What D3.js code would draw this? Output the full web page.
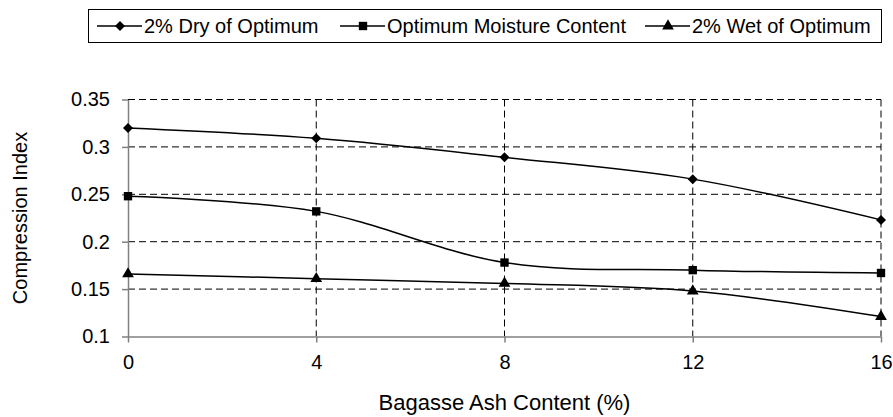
<!DOCTYPE html>
<html lang="en">
<head>
<meta charset="utf-8">
<title>Compression Index vs Bagasse Ash Content</title>
<script src="https://d3js.org/d3.v7.min.js"></script>
<style>
  body { margin: 0; background: #fff; }
  text { font-family: "Liberation Sans", Arial, sans-serif; fill: #000; }
</style>
</head>
<body>
<script>
// data
const ashContent = [0, 4, 8, 12, 16];
const dryOfOptimum = [0.320, 0.309, 0.289, 0.266, 0.223];
const optimumMoisture = [0.248, 0.232, 0.178, 0.170, 0.167];
const wetOfOptimum = [0.166, 0.161, 0.156, 0.148, 0.121];
const seriesNames = ["2% Dry of Optimum", "Optimum Moisture Content", "2% Wet of Optimum"];
const yTicks = [0.1, 0.15, 0.2, 0.25, 0.3, 0.35];

const w = 893, h = 417;
const margin = {top: 99.5, right: 12, bottom: 80.5, left: 128};

// diamond = square turned 45 degrees, like the Excel marker
const diamond = {
  draw(ctx, size) {
    const r = Math.sqrt(size) / Math.SQRT2 * 1.0;
    ctx.moveTo(0, -r); ctx.lineTo(r, 0); ctx.lineTo(0, r); ctx.lineTo(-r, 0); ctx.closePath();
  }
};

const series = [
  {name: seriesNames[0], values: dryOfOptimum, symbol: diamond, size: 50, rot: 0},
  {name: seriesNames[1], values: optimumMoisture, symbol: d3.symbolSquare, size: 70},
  {name: seriesNames[2], values: wetOfOptimum, symbol: d3.symbolTriangle, size: 60}
];

const svg = d3.select("body").append("svg")
  .attr("width", w)
  .attr("height", h);

const x = d3.scaleLinear().domain([0, 16]).range([margin.left, w - margin.right]);
const y = d3.scaleLinear().domain([0.1, 0.35]).range([h - margin.bottom, margin.top]);

// dashed grid
svg.append("g").selectAll("line")
  .data(yTicks.slice(1))
  .join("line")
  .attr("x1", x(0)).attr("x2", x(16))
  .attr("y1", d => y(d)).attr("y2", d => y(d))
  .attr("stroke", "#000").attr("stroke-width", 1)
  .attr("stroke-dasharray", "7,4");

svg.append("g").selectAll("line")
  .data(ashContent.slice(1))
  .join("line")
  .attr("x1", d => x(d)).attr("x2", d => x(d))
  .attr("y1", y(0.35)).attr("y2", y(0.1))
  .attr("stroke", "#000").attr("stroke-width", 1)
  .attr("stroke-dasharray", "7,4");

// axes
const xAxis = d3.axisBottom(x).tickValues(ashContent).tickSize(6).tickSizeOuter(0).tickPadding(12)
  .tickFormat(d3.format("d"));
const yAxis = d3.axisLeft(y).tickValues(yTicks).tickSize(6).tickSizeOuter(0).tickPadding(12)
  .tickFormat(d => String(+d.toFixed(2)));

const gx = svg.append("g")
  .attr("transform", `translate(0,${y(0.1)})`)
  .call(xAxis);
const gy = svg.append("g")
  .attr("transform", `translate(${x(0)},0)`)
  .call(yAxis);

[gx, gy].forEach(g => {
  g.select(".domain").attr("stroke", "#808080").attr("stroke-width", 1.5);
  g.selectAll(".tick line").attr("stroke", "#808080").attr("stroke-width", 1.5);
  g.selectAll(".tick text")
    .attr("font-family", "Liberation Sans, Arial, sans-serif")
    .attr("font-size", 20)
    .attr("fill", "#000");
});

// lines + markers
const line = d3.line()
  .x((d, i) => x(ashContent[i]))
  .y(d => y(d))
  .curve(d3.curveCatmullRom.alpha(0));

series.forEach(s => {
  svg.append("path")
    .attr("d", line(s.values))
    .attr("fill", "none")
    .attr("stroke", "#000")
    .attr("stroke-width", 1.5);

  svg.append("g").selectAll("path")
    .data(s.values)
    .join("path")
    .attr("transform", (d, i) => `translate(${x(ashContent[i])},${y(d)})`)
    .attr("d", d3.symbol(s.symbol, s.size))
    .attr("fill", "#000");
});

// axis titles
svg.append("text")
  .attr("x", (x(0) + x(16)) / 2)
  .attr("y", 410)
  .attr("text-anchor", "middle")
  .attr("font-size", 22)
  .text("Bagasse Ash Content (%)");

svg.append("text")
  .attr("transform", `translate(27,${(y(0.1) + y(0.35)) / 2}) rotate(-90)`)
  .attr("text-anchor", "middle")
  .attr("font-size", 20)
  .text("Compression Index");

// legend
const legend = svg.append("g");
legend.append("rect")
  .attr("x", 88.5).attr("y", 9.5)
  .attr("width", 793).attr("height", 33)
  .attr("fill", "#fff")
  .attr("stroke", "#000")
  .attr("stroke-width", 1);

const legendX = [97, 340, 645];
series.forEach((s, i) => {
  const g = legend.append("g").attr("transform", `translate(${legendX[i]},26)`);
  g.append("line")
    .attr("x1", 0).attr("x2", 45)
    .attr("stroke", "#000").attr("stroke-width", 1.5);
  g.append("path")
    .attr("transform", "translate(23,0)")
    .attr("d", d3.symbol(s.symbol, s.size))
    .attr("fill", "#000");
  g.append("text")
    .attr("x", 47)
    .attr("y", 7)
    .attr("font-size", 20)
    .text(s.name);
});
</script>
</body>
</html>
